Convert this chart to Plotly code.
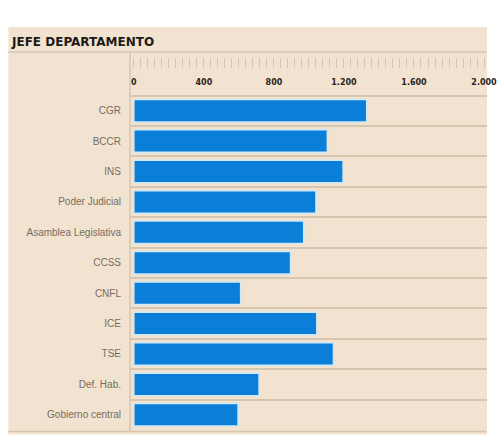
import plotly.graph_objects as go

categories = ["CGR", "BCCR", "INS", "Poder Judicial", "Asamblea Legislativa", "CCSS",
              "CNFL", "ICE", "TSE", "Def. Hab.", "Gobierno central"]
values = [1330, 1105, 1195, 1040, 970, 895, 610, 1045, 1140, 715, 595]
tick_values = [0, 400, 800, 1200, 1600, 2000]
title_text = "JEFE DEPARTAMENTO"

W, H = 502, 435
L, R, T, B = 130, 5, 55, 4.5
pw, ph = W - L - R, H - T - B

def px(x):
    return (x - L) / pw

def py(y):
    return (H - B - y) / ph

BG = "#f1e3cf"
LINE = "#d6c6b0"

fig = go.Figure()
fig.add_trace(go.Bar(
    x=values, y=categories, orientation="h",
    marker=dict(color="#0b7fd7", line=dict(color="#cde8f7", width=1.5)),
    xaxis="x", yaxis="y",
))
# invisible trace to host the ruler axis
fig.add_trace(go.Scatter(x=[0], y=[categories[0]], xaxis="x2", yaxis="y",
                         mode="markers", marker=dict(opacity=0), hoverinfo="skip",
                         showlegend=False))

fig.update_layout(
    width=W, height=H,
    margin=dict(l=L, r=R, t=T, b=B, pad=0),
    paper_bgcolor="white",
    plot_bgcolor="rgba(0,0,0,0)",
    separators=",.",
    showlegend=False,
    bargap=0.26,
    title=dict(text="<b>" + title_text + "</b>", x=12 / W, xanchor="left",
               y=1 - 42 / H, yanchor="middle",
               font=dict(family="DejaVu Sans", size=12, color="#1e1a16")),
    xaxis=dict(
        range=[-22, 2017], side="top", tickvals=tick_values, tickformat=",d",
        showgrid=False, zeroline=False, showline=False, ticks="",
        tickfont=dict(family="DejaVu Sans", size=8, color="#2a2420", weight=700),
        ticklabelstandoff=2, ticklabeloverflow="allow",
    ),
    xaxis2=dict(
        range=[-22, 2017], overlaying="x", anchor="free", position=py(68), side="top",
        showticklabels=False, showgrid=False, zeroline=False, showline=False,
        ticks="outside", ticklen=10, tickwidth=1, tickcolor="#d2c5b4",
        tick0=0, dtick=40,
    ),
    yaxis=dict(
        domain=[0, py(90)], autorange="reversed", type="category",
        tickson="boundaries", showgrid=True, gridcolor=LINE, gridwidth=1.5,
        ticks="", showline=False, zeroline=False,
        tickfont=dict(family="Liberation Sans, Arial", size=10, color="#776c62"),
        ticklabelstandoff=8,
    ),
    shapes=[
        dict(type="rect", xref="paper", yref="paper", x0=px(5), x1=px(497),
             y0=py(435), y1=py(27), fillcolor=BG, line=dict(width=0), layer="below"),
        dict(type="line", xref="paper", yref="paper", x0=px(5), x1=px(497),
             y0=py(52), y1=py(52), line=dict(color=LINE, width=1.5), layer="below"),
        dict(type="line", xref="paper", yref="paper", x0=px(130), x1=px(130),
             y0=py(432), y1=py(52), line=dict(color=LINE, width=1.5), layer="below"),
        dict(type="line", xref="paper", yref="paper", x0=px(5), x1=px(497),
             y0=py(432), y1=py(432), line=dict(color=LINE, width=1.5), layer="below"),
    ],
)

fig.write_html("out.html", config={"displayModeBar": False},
               post_script="document.body.style.margin='0';document.body.style.overflow='hidden';")
